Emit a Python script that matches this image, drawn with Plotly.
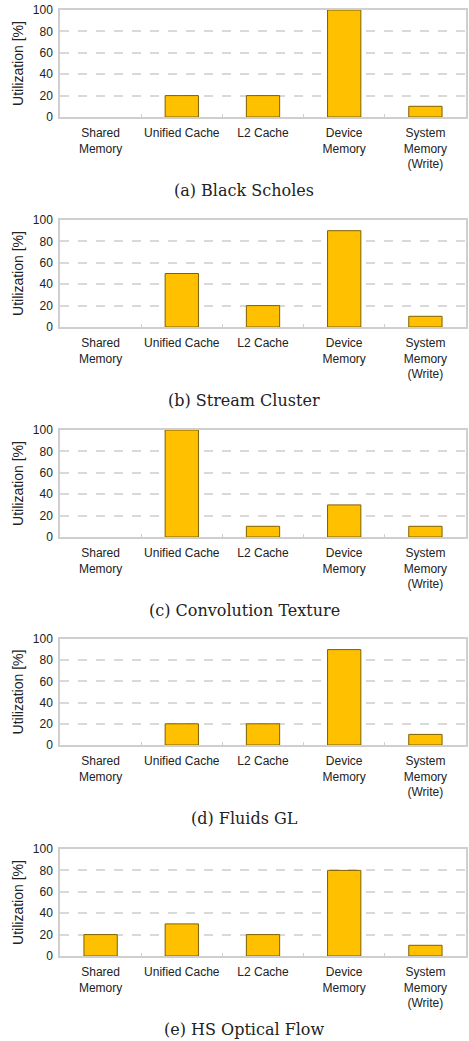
import plotly.graph_objects as go

W, H = 469, 1041

categories = ["Shared<br>Memory", "Unified Cache", "L2 Cache", "Device<br>Memory", "System<br>Memory<br>(Write)"]
black_scholes = [0, 20, 20, 100, 10]
stream_cluster = [0, 50, 20, 90, 10]
convolution_texture = [0, 100, 10, 30, 10]
fluids_gl = [0, 20, 20, 90, 10]
hs_optical_flow = [20, 30, 20, 80, 10]
titles = ["(a) Black Scholes", "(b) Stream Cluster", "(c) Convolution Texture", "(d) Fluids GL", "(e) HS Optical Flow"]
series = [black_scholes, stream_cluster, convolution_texture, fluids_gl, hs_optical_flow]
y_ticks = [0, 20, 40, 60, 80, 100]

tops = [10, 220, 430, 639, 849]
bottoms = [117, 327, 537, 745, 956]
sub_y = [190, 400, 610, 818, 1029]
x0, x1 = 60, 466
FONT = "Liberation Sans, Arial"

fig = go.Figure()
for i, vals in enumerate(series):
    n = "" if i == 0 else str(i + 1)
    fig.add_trace(go.Bar(
        x=categories, y=vals, xaxis="x" + n, yaxis="y" + n,
        marker=dict(color="#FFC000",
                    line=dict(color="#7F6000", width=[0 if v == 0 else 1 for v in vals])),
        width=0.41, showlegend=False,
    ))
    fig.layout["xaxis" + n] = dict(
        domain=[x0 / W, x1 / W], anchor="y" + n, automargin=False,
        showline=True, linecolor="#CFCFCF", mirror=True, linewidth=1.5,
        tickson="boundaries", ticks="inside", ticklen=3, tickcolor="#CFCFCF",
        tickangle=0, ticklabelstandoff=4,
        tickfont=dict(family=FONT, size=12, color="#222"),
        showgrid=False, fixedrange=True,
    )
    fig.layout["yaxis" + n] = dict(
        domain=[1 - bottoms[i] / H, 1 - tops[i] / H], anchor="x" + n, automargin=False,
        range=[0, 100], tickvals=y_ticks, ticklabelstandoff=3,
        showline=True, linecolor="#CFCFCF", mirror=True, linewidth=1.5,
        showgrid=True, gridcolor="#D9D9D9", griddash="dash", gridwidth=1.5,
        zeroline=False,
        tickfont=dict(family=FONT, size=12, color="#222"),
        title=dict(text="Utilization [%]", font=dict(family=FONT, size=14, color="#222"), standoff=6),
        fixedrange=True,
    )
    fig.add_annotation(
        text=titles[i], x=244 / W, y=1 - sub_y[i] / H, xref="paper", yref="paper",
        showarrow=False, font=dict(family="DejaVu Serif, Liberation Serif", size=16, color="#222"),
        xanchor="center", yanchor="middle",
    )

fig.update_layout(
    width=W, height=H, margin=dict(l=0, r=0, t=0, b=0, autoexpand=False),
    paper_bgcolor="white", plot_bgcolor="white", bargap=0.59,
)
fig.write_html("out.html")
